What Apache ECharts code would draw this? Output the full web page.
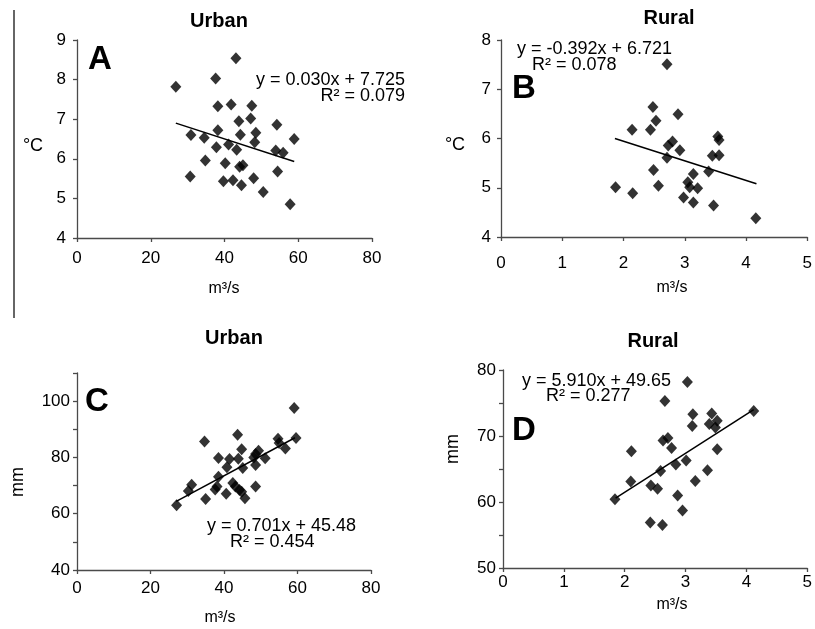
<!DOCTYPE html>
<html><head><meta charset="utf-8">
<script src="https://cdn.jsdelivr.net/npm/echarts@6/dist/echarts.min.js"></script>
<style>html,body{margin:0;padding:0;background:#fff}#c{width:815px;height:629px}</style>
</head><body><div id="c"></div>
<script>
// Panel A: Urban, temperature (°C) vs discharge (m³/s)
const urbanTempX = [26.8,37.6,43.1,38.2,41.8,47.4,47.1,43.9,54.2,30.9,34.5,38.2,44.3,48.5,58.9,48.2,37.8,41.1,43.3,53.9,55.9,34.8,40.2,44.1,45.0,54.4,30.7,39.7,42.3,44.6,47.9,50.5,57.8];
const urbanTempY = [7.82,8.03,8.54,7.33,7.37,7.34,7.02,6.95,6.86,6.60,6.53,6.72,6.61,6.66,6.50,6.42,6.29,6.36,6.23,6.21,6.15,5.96,5.89,5.80,5.84,5.68,5.55,5.43,5.46,5.33,5.51,5.16,4.85];
const urbanTempTrendX = [26.8, 58.9];
const urbanTempTrendY = [6.90, 5.93];
// Panel B: Rural, temperature
const ruralTempX = [2.71,2.48,2.89,2.53,2.14,2.44,3.54,3.56,2.80,2.73,2.92,2.71,3.45,3.56,2.49,3.14,3.39,1.87,2.57,3.05,3.08,3.21,2.15,2.98,3.14,3.47,4.16];
const ruralTempY = [7.51,6.64,6.49,6.36,6.18,6.18,6.04,5.97,5.94,5.86,5.76,5.61,5.65,5.66,5.36,5.28,5.33,5.01,5.04,5.11,5.01,4.99,4.89,4.80,4.70,4.64,4.38];
const ruralTempTrendX = [1.86, 4.17];
const ruralTempTrendY = [6.00, 5.08];
// Panel C: Urban, precipitation (mm)
const urbanPrecX = [59.1,34.7,43.7,59.6,54.7,55.0,56.7,44.8,49.4,51.2,38.5,41.5,43.9,48.1,48.6,40.8,45.1,48.6,38.5,31.2,30.3,38.1,37.6,42.4,43.1,44.2,44.8,40.6,48.6,35.0,45.7,27.1];
const urbanPrecY = [97.6,85.7,88.1,86.9,86.6,85.1,83.2,82.9,82.4,79.7,79.8,79.4,79.5,80.0,81.2,76.5,76.2,77.3,73.1,70.3,68.1,69.7,68.6,70.9,69.7,68.4,67.8,67.1,69.7,65.2,65.5,63.0];
const urbanPrecTrendX = [27.0, 59.3];
const urbanPrecTrendY = [64.4, 87.0];
// Panel D: Rural, precipitation (mm)
const ruralPrecX = [3.03,2.66,4.12,3.12,3.43,3.52,3.39,3.11,3.49,2.71,2.63,2.77,2.11,3.52,3.01,2.84,2.59,3.36,2.10,3.16,2.43,2.54,1.84,2.87,2.95,2.42,2.62];
const ruralPrecY = [78.2,75.3,73.8,73.3,73.4,72.3,71.8,71.5,71.3,69.7,69.3,68.2,67.7,68.0,66.3,65.7,64.7,64.8,63.1,63.2,62.5,62.0,60.4,61.0,58.7,56.9,56.5];
const ruralPrecTrendX = [1.85, 4.12];
const ruralPrecTrendY = [60.6, 74.0];

// Tick labels shown on each axis (other ticks are unlabeled)
const yTickLabelsA = [4,5,6,7,8,9];
const yTickLabelsB = [4,5,6,7,8];
const yTickLabelsC = [40,60,80,100];
const yTickLabelsD = [50,60,70,80];
const xTickLabelsUrban = [0,20,40,60,80];
const xTickLabelsRural = [0,1,2,3,4,5];

const panelTitles = ['Urban', 'Rural', 'Urban', 'Rural'];
const panelLetters = ['A', 'B', 'C', 'D'];
const equations = ['y = 0.030x + 7.725', 'y = -0.392x + 6.721', 'y = 0.701x + 45.48', 'y = 5.910x + 49.65'];
const rSquared = ['R² = 0.079', 'R² = 0.078', 'R² = 0.454', 'R² = 0.277'];
const yNames = ['°C', '°C', 'mm', 'mm'];
const xName = 'm³/s';

const zip = (a, b) => a.map((v, i) => [v, b[i]]);
const FONT = '"Liberation Sans", Arial, sans-serif';
const axisCol = '#4a4a4a';

const grids = [
  {left: 77, top: 40, width: 295, height: 198},
  {left: 501, top: 40, width: 309, height: 197},
  {left: 77, top: 373, width: 294, height: 197},
  {left: 503, top: 370, width: 308, height: 198}
];
const xRanges = [[0,80,20],[0,5,1],[0,80,20],[0,5,1]];
const yRanges = [[4,9,1],[4,8,1],[40,110,10],[50,80,5]];
const xLabelSets = [xTickLabelsUrban, xTickLabelsRural, xTickLabelsUrban, xTickLabelsRural];
const yLabelSets = [yTickLabelsA, yTickLabelsB, yTickLabelsC, yTickLabelsD];
const xMargins = [12, 18, 10, 6];
const yMargins = [11, 10, 7, 7];

function xAxisCfg(i) {
  return {
    gridIndex: i, type: 'value', min: xRanges[i][0], max: xRanges[i][1], interval: xRanges[i][2],
    axisLine: {show: true, lineStyle: {color: axisCol, width: 1.3}},
    axisTick: {show: true, inside: false, length: 4, lineStyle: {color: axisCol, width: 1.3}},
    axisLabel: {color: '#000', fontSize: 17, fontFamily: FONT, margin: xMargins[i],
      formatter: v => xLabelSets[i].includes(v) ? String(v) : ''},
    splitLine: {show: false}
  };
}
function yAxisCfg(i) {
  return {
    gridIndex: i, type: 'value', min: yRanges[i][0], max: yRanges[i][1], interval: yRanges[i][2],
    axisLine: {show: true, lineStyle: {color: axisCol, width: 1.3}},
    axisTick: {show: true, inside: false, length: 4, lineStyle: {color: axisCol, width: 1.3}},
    axisLabel: {color: '#000', fontSize: 17, fontFamily: FONT, margin: yMargins[i],
      formatter: v => yLabelSets[i].includes(v) ? String(v) : ''},
    splitLine: {show: false}
  };
}

const scatterData = [zip(urbanTempX, urbanTempY), zip(ruralTempX, ruralTempY), zip(urbanPrecX, urbanPrecY), zip(ruralPrecX, ruralPrecY)];
const trendData = [zip(urbanTempTrendX, urbanTempTrendY), zip(ruralTempTrendX, ruralTempTrendY), zip(urbanPrecTrendX, urbanPrecTrendY), zip(ruralPrecTrendX, ruralPrecTrendY)];

const series = [];
for (let i = 0; i < 4; i++) {
  series.push({type: 'line', xAxisIndex: i, yAxisIndex: i, data: trendData[i], showSymbol: false, symbol: 'none',
    lineStyle: {color: '#000', width: 1.5}, silent: true, animation: false, z: 2});
  series.push({type: 'scatter', xAxisIndex: i, yAxisIndex: i, data: scatterData[i], symbol: 'diamond', symbolSize: [11, 12],
    itemStyle: {color: '#000'}, silent: true, animation: false, z: 3});
}

const titlePos = [[219, 21], [669, 18], [234, 338], [653, 341]];
const letterPos = [[100, 60], [524, 89], [97, 402], [524, 431]];
const eqPos = [[405, 80, 'right'], [517, 49, 'left'], [207, 526, 'left'], [522, 381, 'left']];
const r2Pos = [[405, 96, 'right'], [532, 65, 'left'], [230, 542, 'left'], [546, 396, 'left']];
const yNamePos = [[33, 146, 0], [455, 145, 0], [18, 482, 1], [453, 449, 1]];
const xNamePos = [[224, 289], [672, 288], [220, 618], [672, 605]];

const graphic = [
  {type: 'line', shape: {x1: 14, y1: 10, x2: 14, y2: 318}, style: {stroke: '#333', lineWidth: 1.5}}
];
for (let i = 0; i < 4; i++) {
  graphic.push({type: 'text', x: titlePos[i][0], y: titlePos[i][1],
    style: {text: panelTitles[i], font: 'bold 20px ' + FONT, fill: '#000', textAlign: 'center', textVerticalAlign: 'middle'}});
  graphic.push({type: 'text', x: letterPos[i][0], y: letterPos[i][1],
    style: {text: panelLetters[i], font: 'bold 33px ' + FONT, fill: '#000', textAlign: 'center', textVerticalAlign: 'middle'}});
  graphic.push({type: 'text', x: eqPos[i][0], y: eqPos[i][1],
    style: {text: equations[i], font: '18px ' + FONT, fill: '#000', textAlign: eqPos[i][2], textVerticalAlign: 'middle'}});
  graphic.push({type: 'text', x: r2Pos[i][0], y: r2Pos[i][1],
    style: {text: rSquared[i], font: '18px ' + FONT, fill: '#000', textAlign: r2Pos[i][2], textVerticalAlign: 'middle'}});
  graphic.push({type: 'text', x: yNamePos[i][0], y: yNamePos[i][1], rotation: yNamePos[i][2] ? Math.PI / 2 : 0,
    style: {text: yNames[i], font: '18px ' + FONT, fill: '#000', textAlign: 'center', textVerticalAlign: 'middle'}});
  graphic.push({type: 'text', x: xNamePos[i][0], y: xNamePos[i][1],
    style: {text: xName, font: '16px ' + FONT, fill: '#000', textAlign: 'center', textVerticalAlign: 'middle'}});
}

const chart = echarts.init(document.getElementById('c'), null, {renderer: 'canvas'});
chart.setOption({
  animation: false,
  backgroundColor: '#fff',
  grid: grids,
  xAxis: [0,1,2,3].map(xAxisCfg),
  yAxis: [0,1,2,3].map(yAxisCfg),
  series: series,
  graphic: graphic
});
</script></body></html>
